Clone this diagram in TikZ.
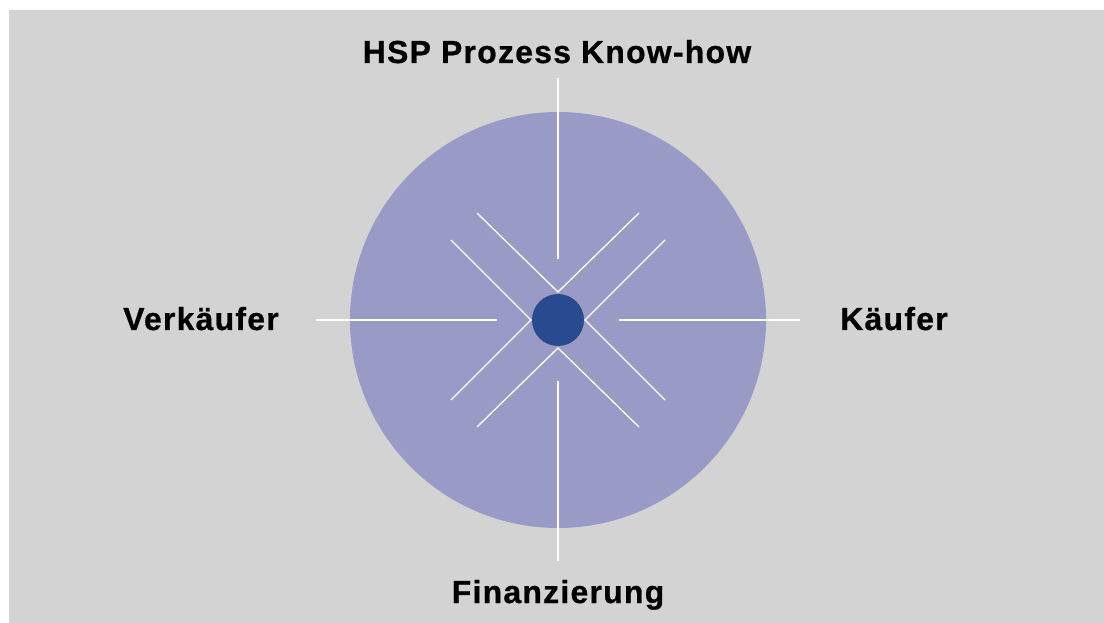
\documentclass[tikz,border=0pt]{standalone}
\usepackage{fontspec}
\setmainfont{Liberation Sans}
\newfontfamily\lblfont[LetterSpace=4,BoldFeatures={FakeBold=0.8}]{Liberation Sans}
\definecolor{bggrey}{HTML}{D3D3D3}
\definecolor{discfill}{HTML}{9A9AC6}
\definecolor{dotfill}{HTML}{284A8E}
\begin{document}
\begin{tikzpicture}[x=1bp,y=-1bp,
  lbl/.style={anchor=base,inner sep=0pt,font=\lblfont\fontsize{32}{38}\selectfont\bfseries,text=black},
  ray/.style={draw=white,line width=1.3bp}]
\useasboundingbox (0,0) rectangle (1104,623);
\fill[white] (0,0) rectangle (1104,623);
\fill[bggrey] (9,10) rectangle (1104,623);
% big disc
\node[circle,fill=discfill,minimum size=416bp,inner sep=0pt] (disc) at (558,320) {};
% centre dot
\node[circle,fill=dotfill,minimum size=52bp,inner sep=0pt] (dot) at (558,320) {};
% rays
\draw[ray] (558,78) -- (558,259);
\draw[ray] (558,381) -- (558,561);
\draw[ray] (316,320) -- (497,320);
\draw[ray] (619,320) -- (800,320);
% chevrons
\draw[ray] (477,213) -- (558,292) -- (639,213);
\draw[ray] (477,427) -- (558,348) -- (639,427);
\draw[ray] (451,240) -- (531,320) -- (451,400);
\draw[ray] (665,240) -- (585,320) -- (665,400);
% labels
\node[lbl] (top) at (557,63) {HSP Prozess Know-how};
\node[lbl] (bottom) at (558,603) {Finanzierung};
\node[lbl] (left) at (201,330) {Verkäufer};
\node[lbl] (right) at (894,330) {Käufer};
\end{tikzpicture}
\end{document}
